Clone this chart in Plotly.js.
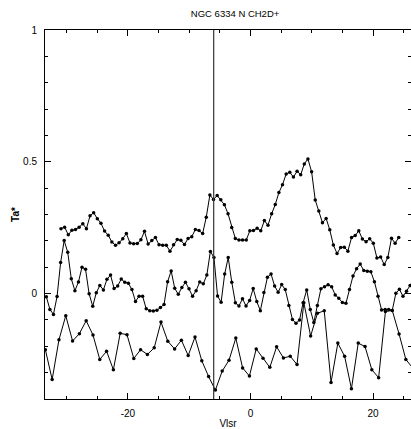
<!DOCTYPE html>
<html>
<head>
<meta charset="utf-8">
<script src="https://cdn.plot.ly/plotly-3.0.1.min.js"></script>
<style>html,body{margin:0;padding:0;background:#fff;}#chart{width:411px;height:429px;}</style>
</head>
<body>
<div id="chart"></div>
<script>
// Top spectrum (velocity km/s, Ta*)
const vTop = [-30.92,-30.33,-29.73,-29.14,-28.55,-27.96,-27.36,-26.77,-26.18,-25.59,
-24.99,-24.40,-23.81,-23.21,-22.62,-22.03,-21.44,-20.84,-20.25,-19.66,
-19.07,-18.47,-17.88,-17.29,-16.70,-16.10,-15.51,-14.92,-14.32,-13.73,
-13.14,-12.55,-11.95,-11.36,-10.77,-10.18,-9.58,-8.99,-8.40,-7.80,
-7.21,-6.62,-6.03,-5.43,-4.84,-4.25,-3.66,-3.06,-2.47,-1.88,
-1.29,-0.69,-0.10,0.49,1.09,1.68,2.27,2.86,3.46,4.05,
4.64,5.23,5.83,6.42,7.01,7.61,8.20,8.79,9.38,9.98,
10.57,11.16,11.75,12.35,12.94,13.53,14.13,14.72,15.31,15.90,
16.50,17.09,17.68,18.27,18.87,19.46,20.05,20.64,21.24,21.83,
22.42,23.02,23.61,24.20];
const taTop = [0.246,0.252,0.223,0.240,0.243,0.252,0.265,0.246,0.295,0.307,
0.284,0.267,0.237,0.221,0.196,0.183,0.193,0.208,0.228,0.192,
0.189,0.190,0.204,0.236,0.188,0.201,0.213,0.185,0.183,0.183,
0.161,0.185,0.205,0.202,0.186,0.209,0.216,0.243,0.239,0.228,
0.290,0.374,0.357,0.372,0.356,0.337,0.303,0.251,0.209,0.203,
0.203,0.203,0.238,0.239,0.248,0.238,0.277,0.259,0.303,0.338,
0.383,0.413,0.454,0.460,0.442,0.464,0.451,0.492,0.511,0.462,
0.355,0.313,0.269,0.285,0.242,0.184,0.152,0.175,0.176,0.161,
0.213,0.220,0.238,0.207,0.197,0.208,0.191,0.135,0.139,0.110,
0.137,0.210,0.191,0.213];

// Middle spectrum
const vMid = [-33.31,-32.73,-32.15,-31.56,-30.98,-30.40,-29.82,-29.24,-28.65,-28.07,
-27.49,-26.91,-26.33,-25.74,-25.16,-24.58,-24.00,-23.42,-22.83,-22.25,
-21.67,-21.09,-20.51,-19.92,-19.34,-18.76,-18.18,-17.60,-17.01,-16.43,
-15.85,-15.27,-14.69,-14.10,-13.52,-12.94,-12.36,-11.78,-11.19,-10.61,
-10.03,-9.45,-8.87,-8.28,-7.70,-7.12,-6.54,-5.96,-5.37,-4.79,
-4.21,-3.63,-3.05,-2.46,-1.88,-1.30,-0.72,-0.14,0.45,1.03,
1.61,2.19,2.77,3.36,3.94,4.52,5.10,5.68,6.27,6.85,
7.43,8.01,8.59,9.18,9.76,10.34,10.92,11.50,12.09,12.67,
13.25,13.83,14.41,15.00,15.58,16.16,16.74,17.32,17.91,18.49,
19.07,19.65,20.23,20.82,21.40,21.98,22.56,23.14,23.73,24.31,
24.89,25.47,26.05];
const taMid = [-0.012,-0.060,-0.079,-0.011,0.118,0.201,0.157,0.056,0.011,0.044,
0.100,0.092,-0.001,-0.048,0.003,0.031,0.014,0.054,0.070,0.019,
0.029,0.055,0.043,0.039,0.015,-0.030,-0.010,-0.010,-0.058,-0.065,
-0.066,-0.063,-0.053,-0.041,0.045,0.086,0.020,-0.003,0.023,0.043,
0.018,-0.010,0.011,0.044,0.037,0.070,0.160,0.137,-0.009,-0.033,
0.074,0.137,0.043,-0.035,-0.047,-0.020,-0.047,-0.026,0.019,-0.030,
-0.065,0.004,0.062,0.074,0.029,0.005,0.034,0.015,-0.045,-0.098,
-0.113,-0.100,-0.035,0.014,-0.060,-0.110,-0.045,0.018,0.026,0.033,
0.026,-0.005,-0.018,-0.034,-0.037,0.015,0.067,0.094,0.112,0.088,
0.085,0.083,0.045,-0.010,-0.062,-0.060,-0.060,-0.064,0.001,0.016,
-0.010,0.009,0.031];

// Bottom spectrum
const vLow = [-33.47,-32.36,-31.25,-30.14,-29.03,-27.92,-26.81,-25.70,-24.59,-23.48,
-22.37,-21.26,-20.15,-19.04,-17.93,-16.82,-15.71,-14.60,-13.49,-12.38,
-11.27,-10.16,-9.05,-7.94,-6.83,-5.72,-4.61,-3.50,-2.39,-1.28,
-0.17,0.94,2.05,3.16,4.27,5.38,6.49,7.60,8.71,9.82,
10.93,12.04,13.15,14.26,15.37,16.48,17.59,18.70,19.81,20.92,
22.03,23.14,24.25,25.36,26.47];
const taLow = [-0.213,-0.326,-0.175,-0.084,-0.180,-0.152,-0.103,-0.157,-0.250,-0.219,
-0.289,-0.151,-0.156,-0.246,-0.213,-0.231,-0.206,-0.108,-0.181,-0.210,
-0.177,-0.235,-0.165,-0.255,-0.315,-0.366,-0.294,-0.253,-0.169,-0.282,
-0.313,-0.210,-0.245,-0.280,-0.202,-0.244,-0.238,-0.269,-0.035,-0.161,
-0.075,-0.065,-0.337,-0.188,-0.238,-0.361,-0.188,-0.201,-0.289,-0.319,
-0.068,-0.064,-0.153,-0.250,-0.282];

const vSys = -6.0;
const xTickVals = [-20, 0, 20];
const xTickText = ['-20', '0', '20'];
const yTickVals = [0, 0.5, 1];
const yTickText = ['0', '0.5', '1'];

function spec(x, y) {
  return {x: x, y: y, type: 'scatter', mode: 'lines+markers',
    line: {color: '#000', width: 1}, marker: {color: '#000', size: 3.5},
    hoverinfo: 'skip'};
}

const data = [spec(vTop, taTop), spec(vMid, taMid), spec(vLow, taLow)];

const axisBase = {
  showgrid: false, zeroline: false, showline: true, linecolor: '#000', linewidth: 1,
  mirror: 'ticks', ticks: 'inside', ticklen: 6, tickwidth: 1, tickcolor: '#000',
  tickfont: {size: 10, color: '#000'}, automargin: false
};

const layout = {
  width: 411, height: 429,
  margin: {l: 45, r: 0, t: 30, b: 30, pad: 0},
  paper_bgcolor: '#fff', plot_bgcolor: '#fff',
  showlegend: false,
  font: {family: 'Liberation Sans, Arial, Helvetica, sans-serif', size: 10, color: '#000'},
  title: {text: 'NGC 6334 N CH2D+', font: {size: 9.5, color: '#000'},
    xref: 'container', x: 0.572, xanchor: 'center',
    yref: 'container', y: 1 - 13.5/429, yanchor: 'middle'},
  xaxis: Object.assign({}, axisBase, {
    range: [-33.53, 26.2], tickmode: 'array', tickvals: xTickVals, ticktext: xTickText,
    ticklabelstandoff: 5,
    minor: {dtick: 5, tick0: 0, ticks: 'inside', ticklen: 3, tickcolor: '#000', tickwidth: 1},
    title: {text: 'Vlsr', standoff: 20, font: {size: 10}}
  }),
  yaxis: Object.assign({}, axisBase, {
    range: [-0.4, 1.0], tickmode: 'array', tickvals: yTickVals, ticktext: yTickText,
    ticklabelstandoff: 5,
    minor: {dtick: 0.1, tick0: 0, ticks: 'inside', ticklen: 3, tickcolor: '#000', tickwidth: 1},
    title: {text: '<b>Ta*</b>', standoff: 1, font: {size: 10}}
  }),
  shapes: [{type: 'line', xref: 'x', yref: 'paper', x0: vSys, x1: vSys, y0: 0, y1: 1,
    line: {color: '#333', width: 1.2}}]
};

Plotly.newPlot('chart', data, layout, {displayModeBar: false, staticPlot: true});
</script>
</body>
</html>
